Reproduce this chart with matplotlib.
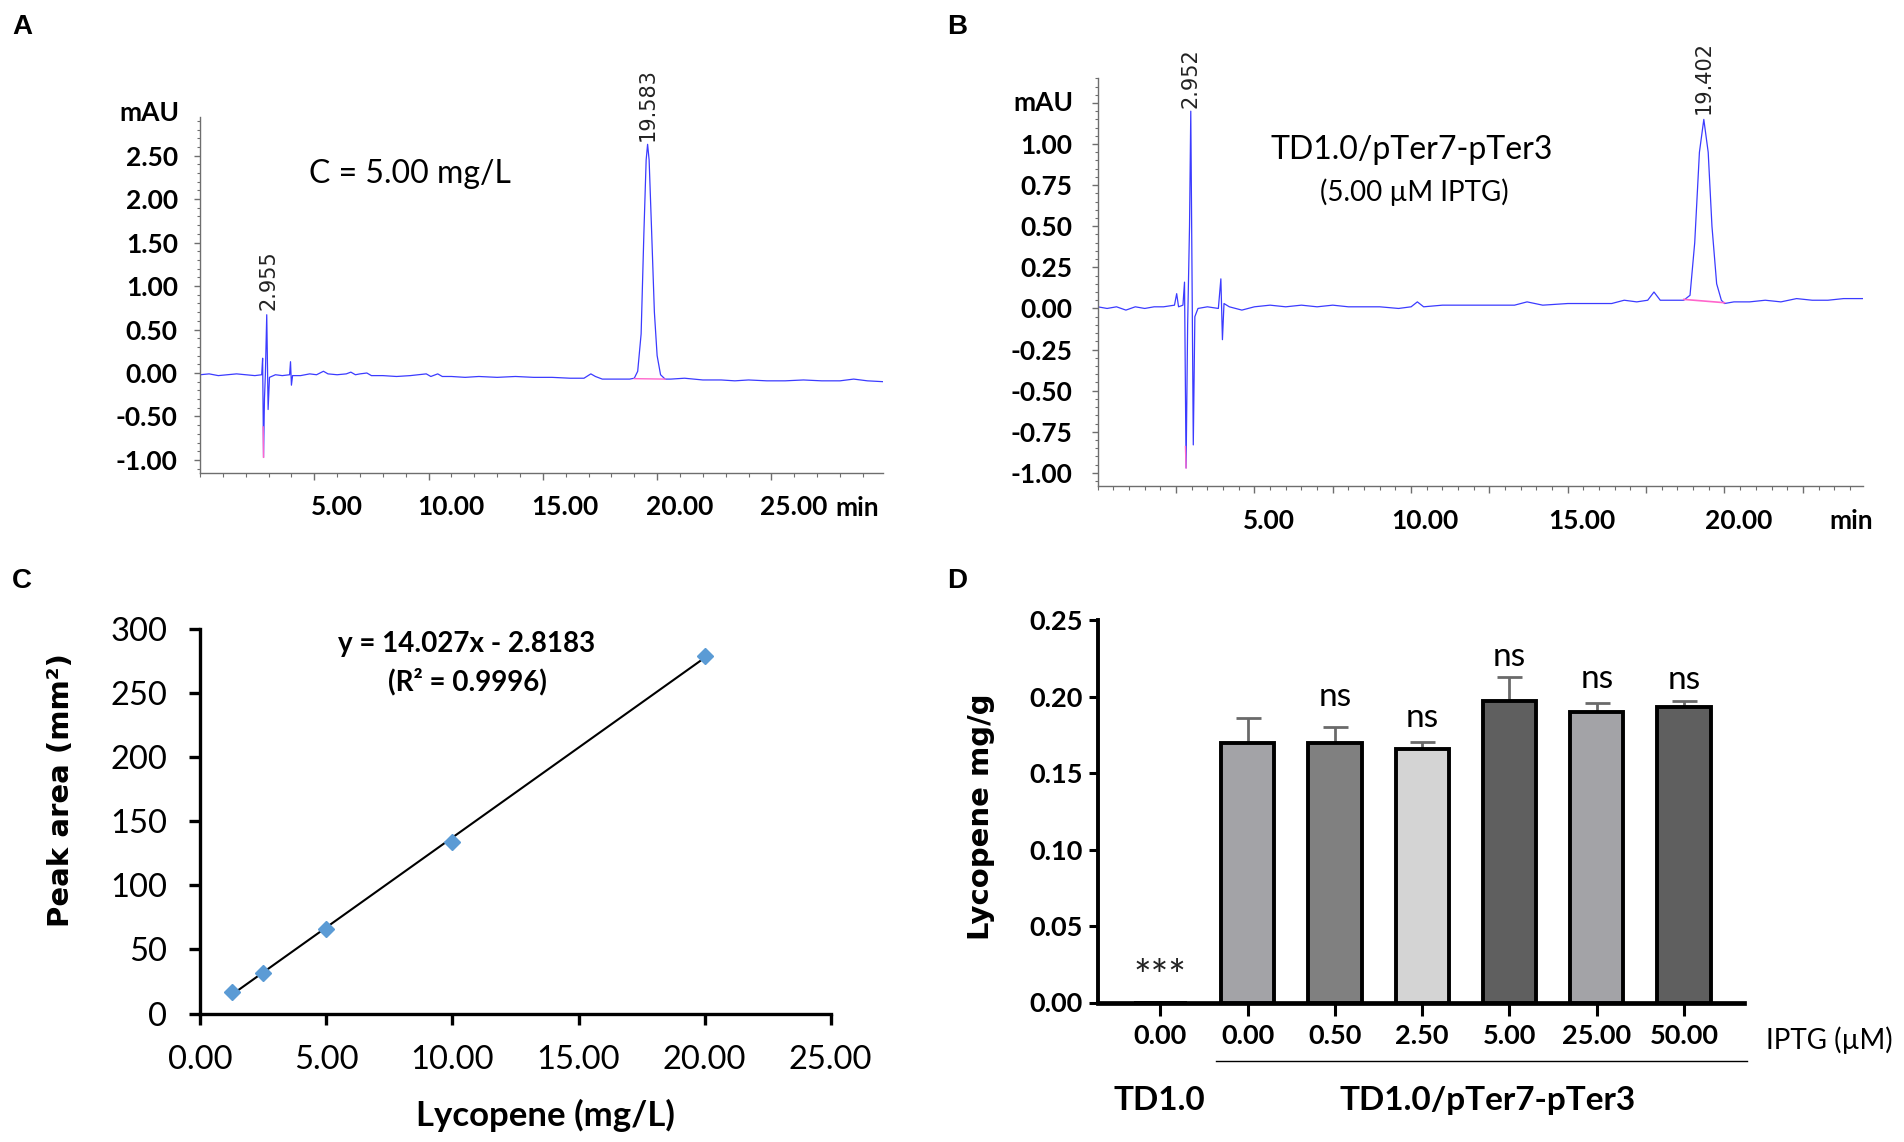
import matplotlib
matplotlib.use("Agg")
import matplotlib.pyplot as plt
from matplotlib.ticker import MultipleLocator, FixedLocator, FormatStrFormatter, NullFormatter

W, H = 1904, 1142
plt.rcParams['font.family'] = ['Lato', 'DejaVu Sans']

# ---------------- data ----------------
# A: chromatogram of standard (C = 5.00 mg/L)
a_time = [0.0, 0.4, 0.8, 1.2, 1.6, 2.0, 2.4, 2.70, 2.74, 2.78, 2.82, 2.86, 2.92, 2.98, 3.04,
          3.3, 3.6, 3.92, 3.96, 4.00, 4.05, 4.4, 4.8, 5.1, 5.4, 5.6, 6.0, 6.4, 6.6, 6.8, 7.0,
          7.3, 7.5, 8.0, 8.6, 9.2, 9.9, 10.1, 10.4, 10.6, 11.0, 11.6, 12.2, 13.0, 13.8, 14.6,
          15.4, 16.2, 16.8, 17.1, 17.3, 17.6, 18.2, 18.8, 19.0, 19.15, 19.3, 19.42, 19.52,
          19.583, 19.65, 19.75, 19.88, 20.0, 20.15, 20.35, 20.6, 21.2, 22.0, 22.8, 23.4, 24.0,
          24.8, 25.6, 26.4, 27.2, 28.0, 28.6, 29.2, 29.9]
a_signal = [-0.02, -0.01, -0.03, -0.02, -0.01, -0.02, -0.03, -0.02, 0.17, -0.97, -0.30, -0.02,
            0.67, -0.42, -0.05, -0.02, -0.03, -0.02, 0.13, -0.14, -0.03, -0.03, -0.01, -0.02,
            0.02, -0.01, -0.02, -0.01, 0.01, -0.02, -0.01, 0.0, -0.03, -0.03, -0.04, -0.03,
            -0.01, -0.04, -0.01, -0.04, -0.04, -0.05, -0.04, -0.05, -0.04, -0.05, -0.05, -0.06,
            -0.06, -0.01, -0.04, -0.07, -0.07, -0.07, -0.06, 0.02, 0.45, 1.6, 2.45, 2.63, 2.45,
            1.7, 0.7, 0.2, -0.02, -0.07, -0.07, -0.06, -0.08, -0.08, -0.09, -0.08, -0.09, -0.09,
            -0.08, -0.09, -0.09, -0.07, -0.09, -0.10]
a_base_time = [19.0, 20.35]
a_base_signal = [-0.065, -0.07]
a_spike_pink_time = [2.765, 2.78]
a_spike_pink_signal = [-0.62, -0.97]
a_peaks = [(2.98, 0.72, "2.955"), (19.583, 2.67, "19.583")]

# B: chromatogram of TD1.0/pTer7-pTer3 (5.00 uM IPTG)
b_time = [0.0, 0.3, 0.6, 0.9, 1.2, 1.5, 1.8, 2.1, 2.45, 2.52, 2.58, 2.72, 2.77, 2.82, 2.87,
          2.93, 2.97, 3.01, 3.05, 3.10, 3.2, 3.5, 3.85, 3.93, 3.98, 4.03, 4.2, 4.6, 5.0, 5.5,
          6.0, 6.5, 7.0, 7.5, 8.0, 8.5, 9.0, 9.6, 10.0, 10.2, 10.4, 11.0, 11.8, 12.6, 13.3,
          13.7, 14.2, 15.0, 15.8, 16.4, 16.8, 17.2, 17.55, 17.75, 17.95, 18.3, 18.7, 18.9,
          19.05, 19.2, 19.34, 19.48, 19.6, 19.75, 19.9, 20.0, 20.3, 20.8, 21.3, 21.8, 22.3,
          22.8, 23.3, 23.8, 24.4]
b_signal = [0.01, 0.0, 0.01, -0.01, 0.01, 0.0, 0.01, 0.01, 0.02, 0.09, 0.01, 0.02, 0.16, -0.97,
            -0.1, 0.5, 1.20, 0.2, -0.83, -0.05, 0.0, 0.01, 0.0, 0.18, -0.19, 0.03, 0.01, -0.01,
            0.01, 0.02, 0.01, 0.02, 0.01, 0.02, 0.01, 0.01, 0.01, 0.0, 0.01, 0.04, 0.01, 0.02,
            0.02, 0.02, 0.02, 0.04, 0.02, 0.03, 0.03, 0.03, 0.05, 0.04, 0.05, 0.10, 0.05, 0.05,
            0.05, 0.08, 0.4, 0.95, 1.15, 0.95, 0.5, 0.15, 0.05, 0.03, 0.04, 0.04, 0.05, 0.04,
            0.06, 0.05, 0.05, 0.06, 0.06]
b_base_time = [18.7, 20.0]
b_base_signal = [0.055, 0.035]
b_spike_pink_time = [2.80, 2.82]
b_spike_pink_signal = [-0.84, -0.97]
b_peaks = [(2.952, 1.22, "2.952"), (19.34, 1.18, "19.402")]

# C: calibration curve
c_conc = [1.25, 2.5, 5.0, 10.0, 20.0]
c_area = [17, 32, 66, 134, 279]
c_slope, c_intercept = 14.027, -2.8183

# D: lycopene content
d_ticklabels = ["0.00", "0.00", "0.50", "2.50", "5.00", "25.00", "50.00"]
d_values = [0.0, 0.170, 0.170, 0.166, 0.197, 0.190, 0.193]
d_errors = [0.0, 0.016, 0.010, 0.0045, 0.016, 0.006, 0.004]
d_colors = ["#a3a3a7", "#a3a3a7", "#808080", "#d4d4d4", "#5f5f5f", "#a3a3a7", "#5f5f5f"]
d_ns_y = [0.194, 0.180, 0.220, 0.2055, 0.205]

# ---------------- figure ----------------
fig = plt.figure(figsize=(W / 100, H / 100), dpi=100)


def ftext(x, y, s, **kw):
    fig.text(x / W, 1 - y / H, s, **kw)


def axes_px(left, top, right, bottom):
    return fig.add_axes([left / W, 1 - bottom / H, (right - left) / W, (bottom - top) / H])


blue = "#3b3bff"
pink = "#ff66cc"
spine_grey = "#6e6e6e"


def chrom_axes(ax, ylim, xlim, ymaj, ymin, xmaj, xmin, ypad):
    for s in ["top", "right"]:
        ax.spines[s].set_visible(False)
    for s in ["left", "bottom"]:
        ax.spines[s].set_color(spine_grey)
        ax.spines[s].set_linewidth(1.0)
    ax.set_xlim(*xlim)
    ax.set_ylim(*ylim)
    ax.yaxis.set_major_locator(FixedLocator(ymaj))
    ax.yaxis.set_major_formatter(FormatStrFormatter("%.2f"))
    ax.yaxis.set_minor_locator(MultipleLocator(ymin))
    ax.xaxis.set_major_locator(FixedLocator(xmaj))
    ax.xaxis.set_major_formatter(NullFormatter())
    ax.xaxis.set_minor_locator(MultipleLocator(xmin))
    ax.tick_params(axis="y", which="major", length=4, width=1, color=spine_grey, pad=ypad,
                   labelsize=19)
    ax.tick_params(axis="y", which="minor", length=2, width=0.8, color=spine_grey)
    ax.tick_params(axis="x", which="major", length=5, width=1, color=spine_grey)
    ax.tick_params(axis="x", which="minor", length=3, width=0.8, color=spine_grey)
    for lbl in ax.get_yticklabels():
        lbl.set_fontweight("bold")


# ---- A ----
axA = axes_px(200, 116.5, 883.4, 473)
chrom_axes(axA, (-1.15, 2.95), (0, 29.9), [-1.0, -0.5, 0, 0.5, 1.0, 1.5, 2.0, 2.5], 0.1,
           [5, 10, 15, 20, 25], 1, 12)
axA.plot(a_time, a_signal, color=blue, lw=0.9)
axA.plot(a_base_time, a_base_signal, color=pink, lw=1.0)
axA.plot(a_spike_pink_time, a_spike_pink_signal, color=pink, lw=1.0)
for t, y, s in a_peaks:
    axA.text(t, y, s, rotation=90, ha="center", va="bottom", fontsize=15,
             family="DejaVu Sans", color="#222222")
for t in [5, 10, 15, 20, 25]:
    axA.text(t + 0.98, -0.095, f"{t:.2f}", transform=axA.get_xaxis_transform(),
             ha="center", va="center", fontsize=19, fontweight="bold")
ftext(309, 174, "C = 5.00 mg/L", ha="left", va="center", fontsize=23)
ftext(179, 113, "mAU", ha="right", va="center", fontsize=19, fontweight="bold")
ftext(835, 508, "min", ha="left", va="center", fontsize=19, fontweight="bold")

# ---- B ----
axB = axes_px(1097.7, 78.3, 1862.7, 486)
chrom_axes(axB, (-1.08, 1.40), (0, 24.41),
           [-1.0, -0.75, -0.5, -0.25, 0, 0.25, 0.5, 0.75, 1.0, 1.25], 0.05,
           [2.5 * k for k in range(1, 10)], 0.5, 14)
axB.set_yticklabels([f"{v:.2f}" for v in [-1.0, -0.75, -0.5, -0.25, 0, 0.25, 0.5, 0.75, 1.0]]
                    + [""], fontweight="bold")
axB.plot(b_time, b_signal, color=blue, lw=0.9)
axB.plot(b_base_time, b_base_signal, color=pink, lw=1.2)
axB.plot(b_spike_pink_time, b_spike_pink_signal, color=pink, lw=1.0)
for t, y, s in b_peaks:
    axB.text(t, y, s, rotation=90, ha="center", va="bottom", fontsize=15,
             family="DejaVu Sans", color="#222222")
for t in [5, 10, 15, 20]:
    axB.text(t + 0.45, -0.085, f"{t:.2f}", transform=axB.get_xaxis_transform(),
             ha="center", va="center", fontsize=19, fontweight="bold")
ftext(1412, 150, "TD1.0/pTer7-pTer3", ha="center", va="center", fontsize=23)
ftext(1414, 192, "(5.00 µM IPTG)", ha="center", va="center", fontsize=20)
ftext(1073, 103, "mAU", ha="right", va="center", fontsize=19, fontweight="bold")
ftext(1829, 521, "min", ha="left", va="center", fontsize=19, fontweight="bold")

# ---- C ----
axC = axes_px(200.4, 629.3, 830.6, 1013.5)
for s in ["top", "right"]:
    axC.spines[s].set_visible(False)
for s in ["left", "bottom"]:
    axC.spines[s].set_linewidth(2.4)
axC.set_xlim(0, 25)
axC.set_ylim(0, 300)
axC.xaxis.set_major_locator(MultipleLocator(5))
axC.xaxis.set_major_formatter(FormatStrFormatter("%.2f"))
axC.yaxis.set_major_locator(MultipleLocator(50))
axC.tick_params(axis="both", length=8, width=2.4, labelsize=23.5)
axC.tick_params(axis="x", pad=15)
axC.tick_params(axis="y", pad=16)
fit_x = [c_conc[0], c_conc[-1]]
fit_y = [c_slope * x + c_intercept for x in fit_x]
axC.plot(fit_x, fit_y, color="black", lw=1.5, zorder=2)
axC.plot(c_conc, c_area, "D", color="#5b9bd5", markersize=8, zorder=3, clip_on=False)
ftext(467, 644, "y = 14.027x - 2.8183", ha="center", va="center", fontsize=20,
      fontweight="bold")
ftext(467, 682, "(R² = 0.9996)", ha="center", va="center", fontsize=20, fontweight="bold")
ftext(61, 790, "Peak area (mm²)", rotation=90, ha="center", va="center", fontsize=21,
      fontweight="bold", family="DejaVu Sans")
ftext(545, 1115, "Lycopene (mg/L)", ha="center", va="center", fontsize=25, fontweight="bold")

# ---- D ----
axD = axes_px(1097.7, 620.2, 1744.3, 1002.5)
for s in ["top", "right"]:
    axD.spines[s].set_visible(False)
axD.spines["left"].set_linewidth(2.8)
axD.spines["bottom"].set_linewidth(3.4)
xs = list(range(len(d_values)))
axD.bar(xs, d_values, width=0.61, color=d_colors, edgecolor="black", linewidth=2.8, zorder=3)
axD.errorbar(xs[1:], d_values[1:], yerr=[[0] * (len(xs) - 1), d_errors[1:]], fmt="none",
             ecolor="#6a6a6a", elinewidth=2, capsize=9, capthick=2, zorder=2)
for x, y in zip(xs[2:], d_ns_y):
    axD.text(x, y, "ns", ha="center", va="baseline", fontsize=24)
axD.text(0, 0.008, "***", ha="center", va="baseline", fontsize=30, color="#222222")
axD.set_xlim(-0.717, 6.69)
axD.set_ylim(0, 0.25)
axD.yaxis.set_major_locator(MultipleLocator(0.05))
axD.yaxis.set_major_formatter(FormatStrFormatter("%.2f"))
axD.set_xticks(xs)
axD.set_xticklabels(d_ticklabels)
axD.tick_params(axis="y", length=6.5, width=2.2, pad=4, labelsize=19.5)
axD.tick_params(axis="x", length=9.5, width=2.2, pad=6, labelsize=19.5)
for lbl in axD.get_xticklabels() + axD.get_yticklabels():
    lbl.set_fontweight("bold")
axD.plot([0.64, 6.72], [-0.1525, -0.1525], color="black", lw=1.0,
         transform=axD.get_xaxis_transform(), clip_on=False)
ftext(1766, 1040, "IPTG (µM)", ha="left", va="center", fontsize=20)
ftext(1159, 1110, "TD1.0", ha="center", va="baseline", fontsize=24, fontweight="bold")
ftext(1488, 1110, "TD1.0/pTer7-pTer3", ha="center", va="baseline", fontsize=24,
      fontweight="bold")
ftext(981, 817, "Lycopene mg/g", rotation=90, ha="center", va="center", fontsize=21,
      fontweight="bold", family="DejaVu Sans")

# panel letters
for letter, x, y in [("A", 22, 27), ("B", 957, 27), ("C", 22, 581), ("D", 957, 581)]:
    ftext(x, y, letter, ha="center", va="center", fontsize=20, fontweight="bold",
          family="Liberation Sans")

fig.savefig("out.png", dpi=100)
